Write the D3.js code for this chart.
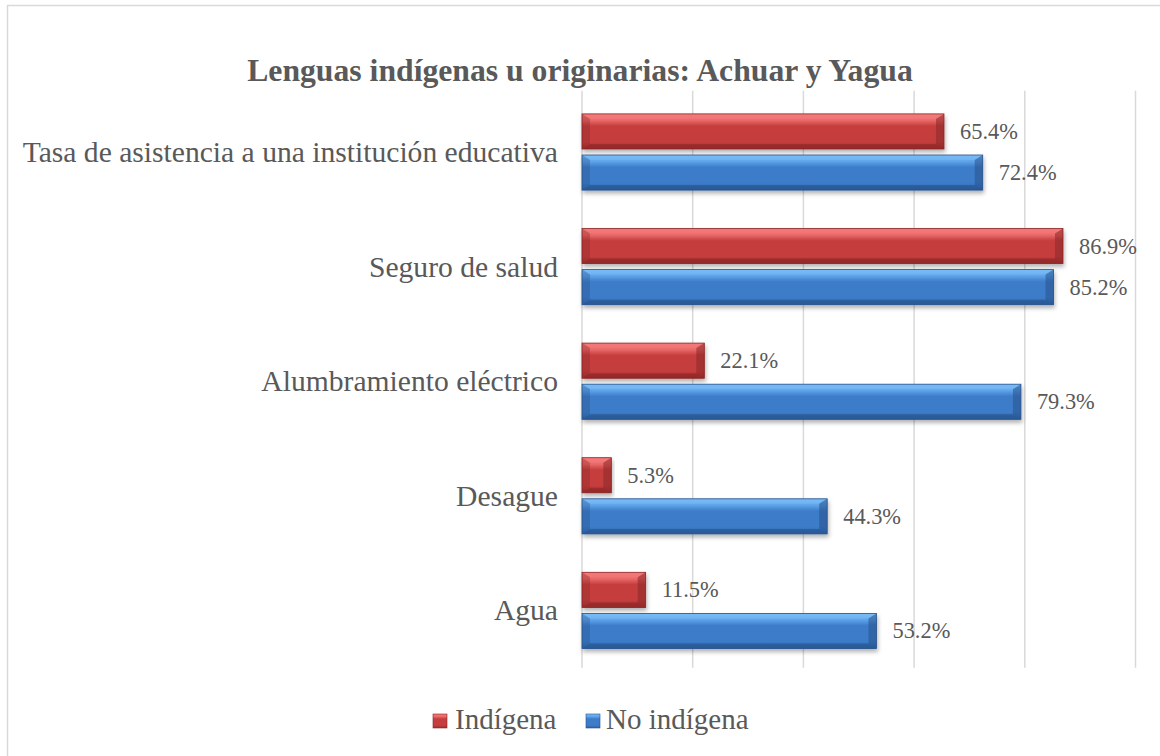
<!DOCTYPE html>
<html>
<head>
<meta charset="utf-8">
<script src="https://cdn.jsdelivr.net/npm/d3@7"></script>
<style>
  body { margin: 0; background: #fff; }
  text { font-family: "Liberation Serif", "Times New Roman", serif; fill: #595959; }
</style>
</head>
<body>
<div class="container"></div>
<script>
// chart data
var categories = ["Tasa de asistencia a una institución educativa", "Seguro de salud",
                  "Alumbramiento eléctrico", "Desague", "Agua"];
var seriesNames = ["Indígena", "No indígena"];
var indigena = [65.4, 86.9, 22.1, 5.3, 11.5];
var noIndigena = [72.4, 85.2, 79.3, 44.3, 53.2];
var gridTicks = [0, 20, 40, 60, 80, 100];
var titleText = "Lenguas indígenas u originarias: Achuar y Yagua";

var opts = {width: 1160, height: 756,
            plotLeft: 582, plotRight: 1135.5, plotTop: 94.7, plotBottom: 667.7};

var colors = {
  "Indígena": {top: "#f47a7a", mid: "#c53d3d", bot: "#a02e2e", light: "#ea6a6a", dark: "#8a2626"},
  "No indígena": {top: "#78bcf6", mid: "#3c7cc8", bot: "#2f62a6", light: "#5fa3ea", dark: "#27528c"}
};

var svg = d3.select(".container")
    .append("svg")
    .attr("width", opts.width)
    .attr("height", opts.height);

var defs = svg.append("defs");

seriesNames.forEach(function(s, i) {
  var c = colors[s];
  var g = defs.append("linearGradient")
      .attr("id", "grad" + i)
      .attr("x1", 0).attr("y1", 0).attr("x2", 0).attr("y2", 1);
  g.append("stop").attr("offset", "0%").attr("stop-color", c.top);
  g.append("stop").attr("offset", "18%").attr("stop-color", c.light);
  g.append("stop").attr("offset", "35%").attr("stop-color", c.mid);
  g.append("stop").attr("offset", "80%").attr("stop-color", c.mid);
  g.append("stop").attr("offset", "100%").attr("stop-color", c.bot);
});

var shadow = defs.append("filter").attr("id", "shadow")
    .attr("x", "-5%").attr("y", "-20%").attr("width", "115%").attr("height", "160%");
shadow.append("feDropShadow")
    .attr("dx", 1).attr("dy", 3).attr("stdDeviation", 2)
    .attr("flood-color", "#000").attr("flood-opacity", 0.3);

// chart border
svg.append("rect")
    .attr("x", 7.5).attr("y", 5.5)
    .attr("width", 1200).attr("height", 800)
    .attr("fill", "none")
    .attr("stroke", "#d9d9d9")
    .attr("stroke-width", 1.5);

// title
svg.append("text")
    .attr("x", 580).attr("y", 70)
    .attr("text-anchor", "middle")
    .attr("dominant-baseline", "central")
    .style("font-size", "31.7px")
    .style("font-weight", "bold")
    .text(titleText);

var x = d3.scaleLinear().domain([0, 100]).range([opts.plotLeft, opts.plotRight]);
var y = d3.scaleBand().domain(categories)
    .range([opts.plotTop, opts.plotBottom])
    .paddingInner(0.335).paddingOuter(0.1675);
var ySeries = d3.scaleBand().domain(seriesNames)
    .range([0, y.bandwidth()])
    .paddingInner(0.146);

// gridlines
svg.append("g").selectAll("line")
    .data(gridTicks)
  .enter().append("line")
    .attr("x1", function(d) { return x(d); })
    .attr("x2", function(d) { return x(d); })
    .attr("y1", opts.plotTop - 4)
    .attr("y2", opts.plotBottom)
    .attr("stroke", "#d9d9d9")
    .attr("stroke-width", 1.5);

// category labels
svg.append("g").selectAll("text")
    .data(categories)
  .enter().append("text")
    .attr("x", 558)
    .attr("y", function(d) { return y(d) + y.bandwidth() / 2; })
    .attr("text-anchor", "end")
    .attr("dominant-baseline", "central")
    .style("font-size", "29.6px")
    .text(function(d) { return d; });

// build bar records
var bars = [];
categories.forEach(function(cat, i) {
  bars.push({cat: cat, series: "Indígena", si: 0, value: indigena[i]});
  bars.push({cat: cat, series: "No indígena", si: 1, value: noIndigena[i]});
});

var bevelX = 8, bevelY = 5;

var barG = svg.append("g").selectAll("g.bar")
    .data(bars)
  .enter().append("g")
    .attr("class", "bar")
    .attr("filter", "url(#shadow)");

barG.each(function(d) {
  var g = d3.select(this);
  var x0 = x(0), x1 = x(d.value);
  var y0 = y(d.cat) + ySeries(d.series), y1 = y0 + ySeries.bandwidth();
  var c = colors[d.series];
  var bx = Math.min(bevelX, (x1 - x0) / 3);
  g.append("rect")
      .attr("x", x0).attr("y", y0)
      .attr("width", x1 - x0).attr("height", y1 - y0)
      .attr("fill", "url(#grad" + d.si + ")");
  // bevel faces
  g.append("polygon")
      .attr("points", [[x0, y0], [x1, y0], [x1 - bx, y0 + bevelY], [x0 + bx, y0 + bevelY]].join(" "))
      .attr("fill", c.top).attr("opacity", 0.55);
  g.append("polygon")
      .attr("points", [[x0, y1], [x1, y1], [x1 - bx, y1 - bevelY], [x0 + bx, y1 - bevelY]].join(" "))
      .attr("fill", c.dark).attr("opacity", 0.6);
  g.append("polygon")
      .attr("points", [[x0, y0], [x0 + bx, y0 + bevelY], [x0 + bx, y1 - bevelY], [x0, y1]].join(" "))
      .attr("fill", c.dark).attr("opacity", 0.35);
  g.append("polygon")
      .attr("points", [[x1, y0], [x1 - bx, y0 + bevelY], [x1 - bx, y1 - bevelY], [x1, y1]].join(" "))
      .attr("fill", c.dark).attr("opacity", 0.55);
  g.append("rect")
      .attr("x", x0).attr("y", y0)
      .attr("width", x1 - x0).attr("height", y1 - y0)
      .attr("fill", "none")
      .attr("stroke", c.dark).attr("stroke-width", 0.8);
});

// data labels
svg.append("g").selectAll("text")
    .data(bars)
  .enter().append("text")
    .attr("x", function(d) { return x(d.value) + 16; })
    .attr("y", function(d) { return y(d.cat) + ySeries(d.series) + ySeries.bandwidth() / 2; })
    .attr("dominant-baseline", "central")
    .style("font-size", "22.4px")
    .text(function(d) { return d.value.toFixed(1) + "%"; });

// legend
var legendItems = [{name: "Indígena", si: 0, x: 433, tx: 455}, {name: "No indígena", si: 1, x: 586, tx: 606}];
var leg = svg.append("g").selectAll("g")
    .data(legendItems)
  .enter().append("g");
leg.append("rect")
    .attr("x", function(d) { return d.x; })
    .attr("y", 714)
    .attr("width", 14).attr("height", 14)
    .attr("fill", function(d) { return "url(#grad" + d.si + ")"; })
    .attr("stroke", function(d) { return colors[d.name].dark; })
    .attr("stroke-width", 0.6);
leg.append("text")
    .attr("x", function(d) { return d.tx; })
    .attr("y", 719)
    .attr("dominant-baseline", "central")
    .style("font-size", "29px")
    .text(function(d) { return d.name; });
</script>
</body>
</html>
